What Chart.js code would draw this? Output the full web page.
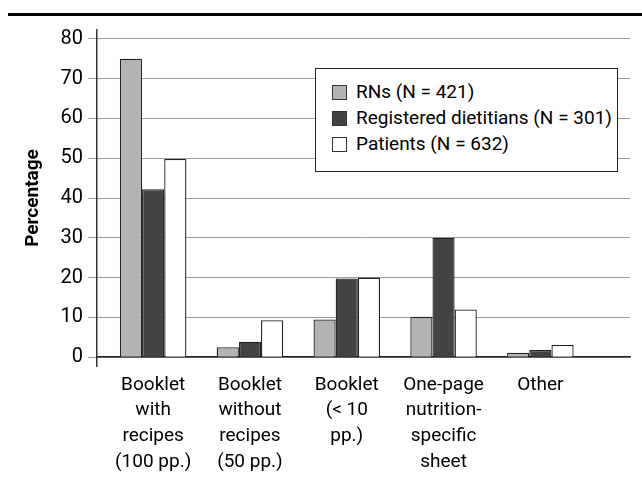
<!DOCTYPE html>
<html lang="en">
<head>
<meta charset="UTF-8">
<title>Education material preference</title>
<script src="https://cdn.jsdelivr.net/npm/chart.js"></script>
<style>
  body { margin: 0; background: #fff; }
  #wrap { position: relative; width: 642px; height: 481px; }
  #rule { position: absolute; left: 8px; right: 0; top: 13px; height: 3px; background: #000; }
  #legend {
    position: absolute; left: 315px; top: 68px; width: 301px; height: 92px;
    border: 1.5px solid #222; box-sizing: content-box; background: #fff;
    font-family: Roboto, "DejaVu Sans Condensed", sans-serif;
    font-size: 19px; color: #000; padding-top: 10px;
  }
  .item { position: relative; height: 26px; line-height: 26px; padding-left: 40px; white-space: nowrap; }
  .sw { position: absolute; left: 16px; top: 6px; width: 13px; height: 13px; border: 1px solid #333; }
</style>
</head>
<body>
<div id="wrap">
  <canvas id="chart" width="642" height="481"></canvas>
  <div id="rule"></div>
  <div id="legend"></div>
</div>
<script>
  const categories = [
    ['Booklet', 'with', 'recipes', '(100 pp.)'],
    ['Booklet', 'without', 'recipes', '(50 pp.)'],
    ['Booklet', '(< 10', 'pp.)'],
    ['One-page', 'nutrition-', 'specific', 'sheet'],
    ['Other']
  ];
  const seriesNames = ['RNs (N = 421)', 'Registered dietitians (N = 301)', 'Patients (N = 632)'];
  const rnValues = [75, 2.5, 9.5, 10.2, 1.1];
  const dietitianValues = [42.2, 3.9, 19.8, 30, 1.8];
  const patientValues = [49.8, 9.3, 20, 12, 3.1];
  const yTicks = [0, 10, 20, 30, 40, 50, 60, 70, 80];

  const fills = ['#b3b3b3', '#434343', '#ffffff'];
  const font = 'Roboto, "DejaVu Sans Condensed", sans-serif';

  function points(values) {
    return values.map((v, i) => ({ x: i + 1, y: v }));
  }

  const allValues = [rnValues, dietitianValues, patientValues];
  const datasets = allValues.map((vals, i) => ({
    label: seriesNames[i],
    data: points(vals),
    backgroundColor: fills[i],
    borderColor: '#222',
    borderWidth: 1.3,
    categoryPercentage: 0.687,
    barPercentage: 1
  }));

  // legend built from the same series
  const legendEl = document.getElementById('legend');
  seriesNames.forEach((name, i) => {
    const row = document.createElement('div');
    row.className = 'item';
    row.innerHTML = '<span class="sw" style="background:' + fills[i] + '"></span>' + name;
    legendEl.appendChild(row);
  });

  new Chart(document.getElementById('chart'), {
    type: 'bar',
    data: { datasets: datasets },
    options: {
      responsive: false,
      animation: false,
      layout: { padding: { left: 0, right: 12, top: 30, bottom: 115 } },
      plugins: { legend: { display: false }, tooltip: { enabled: false } },
      scales: {
        x: {
          type: 'linear',
          position: { y: 0 },
          offset: false,
          min: 0.42,
          max: 5.926,
          afterBuildTicks: (scale) => {
            scale.ticks = categories.map((_, i) => ({ value: i + 1 }));
          },
          ticks: {
            autoSkip: false,
            maxRotation: 0,
            padding: 7,
            color: '#000',
            font: { family: font, size: 19, lineHeight: 1.35 },
            callback: (v) => categories[v - 1]
          },
          grid: { display: false },
          border: { color: '#222', width: 1.5 }
        },
        y: {
          min: -2.2,
          max: 82.2,
          afterBuildTicks: (scale) => {
            scale.ticks = yTicks.map(v => ({ value: v }));
          },
          afterFit: (scale) => { scale.width = 97; },
          ticks: {
            padding: 5,
            color: '#000',
            font: { family: font, size: 20 }
          },
          grid: { color: '#9c9c9c', lineWidth: 1, tickLength: 9 },
          border: { color: '#333', width: 1.5 },
          title: {
            display: true,
            text: 'Percentage',
            color: '#000',
            padding: { top: 22 },
            font: { family: font, size: 19, weight: 'bold' }
          }
        }
      }
    }
  });
</script>
</body>
</html>
